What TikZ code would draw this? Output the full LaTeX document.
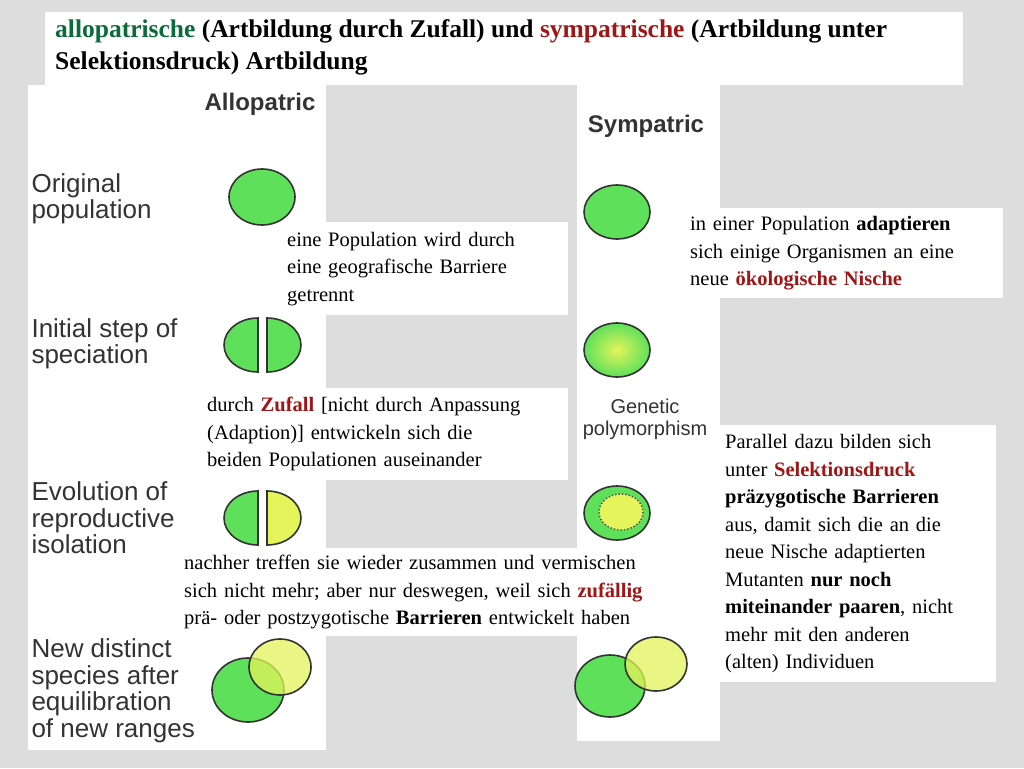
\documentclass[tikz,border=0pt]{standalone}
\usepackage{fontspec}
\setmainfont{Liberation Serif}
\setsansfont{Liberation Sans}
\usetikzlibrary{positioning}
\definecolor{bgray}{HTML}{DDDDDD}
\definecolor{popgreen}{HTML}{5EE05A}
\definecolor{popyellow}{HTML}{E4F45A}
\definecolor{tgreen}{HTML}{0B6B3A}
\definecolor{tred}{HTML}{A01515}
\definecolor{lgray}{HTML}{333333}
\tikzset{
         panel/.style={fill=white, draw=none},
         pop/.style={draw=black!80, line width=1.6pt, fill=popgreen},
         popy/.style={draw=black!80, line width=1.6pt, fill=popyellow},
         txtbox/.style={fill=white, align=left, anchor=north west, inner xsep=7pt,
                        inner ysep=6pt, font=\fontsize{20.5}{27.5}\selectfont},
         stage/.style={anchor=west, align=left, text=lgray,
                       font=\sffamily\fontsize{26}{26.5}\selectfont},
         head/.style={font=\sffamily\bfseries\fontsize{24}{26}\selectfont, text=lgray}
      }
\begin{document}
\begin{tikzpicture}[x=1pt,y=-1pt]
   \fill[bgray] (0,0) rectangle (1024,768);
   \useasboundingbox (0,0) rectangle (1024,768);
   % panels
   \fill[panel] (45,12) rectangle (963,85);
   \fill[panel] (28,85) rectangle (326,750);
   \fill[panel] (577,85) rectangle (720,741);
   % title
   \node[anchor=north west, align=left, inner sep=0pt,
         font=\bfseries\fontsize{25.5}{32}\selectfont] (title) at (55,19)
     {\textcolor{tgreen}{allopatrische} (Artbildung durch Zufall) und \textcolor{tred}{sympatrische} (Artbildung unter\\Selektionsdruck) Artbildung};
   % headers
   \node[head] (allo) at (260,104) {Allopatric};
   \node[head] (sym) at (646,126) {Sympatric};
   % stage labels
   \node[stage] (orig) at (28,199) {Original\\population};
   \node[stage] (init) at (28,344) {Initial step of\\speciation};
   \node[stage] (evol) at (28,518) {Evolution of\\reproductive\\isolation};
   \node[stage] (newsp) at (28,691) {New distinct\\species after\\equilibration\\of new ranges};
   \node[align=center, text=lgray, font=\sffamily\fontsize{20}{22}\selectfont] (genpoly) at (645,419) {Genetic\\polymorphism};
   % allopatric populations
   \draw[pop] (262,197) ellipse (33 and 28);
   \draw[pop] (258,372) arc (90:270:34 and 27) -- cycle;
   \draw[pop] (267,372) arc (90:-90:34 and 27) -- cycle;
   \draw[pop] (258,545) arc (90:270:34 and 27) -- cycle;
   \draw[popy] (267,545) arc (90:-90:34 and 27) -- cycle;
   \draw[pop] (248,690) ellipse (36 and 32);
   \draw[popy, fill opacity=.75] (280,667) ellipse (31 and 28);
   % sympatric populations
   \draw[pop] (617,212) ellipse (33 and 27);
   \shade[inner color=popyellow, outer color=popgreen] (617,350) ellipse (33 and 27);
   \draw[draw=black!80, line width=1.6pt] (617,350) ellipse (33 and 27);
   \draw[pop] (617,513) ellipse (33 and 27);
   \draw[fill=popyellow, draw=black!70, dotted, line width=1.4pt] (621,512) ellipse (22 and 18);
   \draw[pop] (610,686) ellipse (35 and 31);
   \draw[popy, fill opacity=.75] (656,664) ellipse (31 and 27);
   % text boxes
   \node[txtbox, text width=274pt, minimum height=93pt] (box1) at (280,222)
     {eine Population wird durch\\eine geografische Barriere\\getrennt};
   \node[txtbox, text width=354pt, minimum height=92pt] (box2) at (200,388)
     {durch \textbf{\textcolor{tred}{Zufall}} [nicht durch Anpassung\\(Adaption)] entwickeln sich die\\beiden Populationen auseinander};
   \node[txtbox, text width=489pt, minimum height=88pt] (box3) at (177,548)
     {nachher treffen sie wieder zusammen und vermischen\\sich nicht mehr; aber nur deswegen, weil sich \textbf{\textcolor{tred}{zufällig}}\\prä- oder postzygotische \textbf{Barrieren} entwickelt haben};
   \node[txtbox, text width=306pt, minimum height=90pt] (box4) at (683,208)
     {in einer Population \textbf{adaptieren}\\sich einige Organismen an eine\\neue \textbf{\textcolor{tred}{ökologische Nische}}};
   \node[txtbox, text width=264pt, minimum height=257pt] (box5) at (718,425)
     {Parallel dazu bilden sich\\unter \textbf{\textcolor{tred}{Selektionsdruck}}\\\textbf{präzygotische Barrieren}\\aus, damit sich die an die\\neue Nische adaptierten\\Mutanten \textbf{nur noch}\\\textbf{miteinander paaren}, nicht\\mehr mit den anderen\\(alten) Individuen};
\end{tikzpicture}
\end{document}
